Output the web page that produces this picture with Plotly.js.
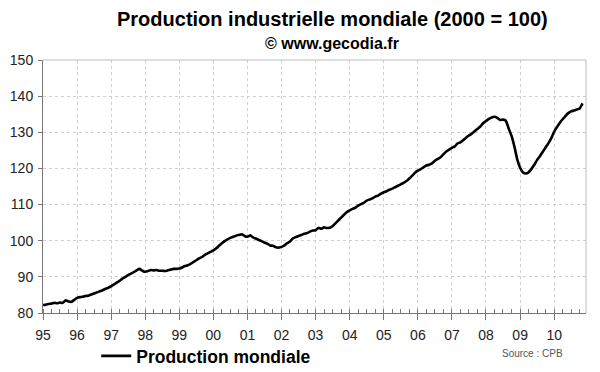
<!DOCTYPE html>
<html>
<head>
<meta charset="utf-8">
<script src="https://cdn.plot.ly/plotly-3.0.1.min.js"></script>
<style>html,body{margin:0;padding:0;background:#fff;}#chart{width:600px;height:372px;}</style>
</head>
<body>
<div id="chart"></div>
<script>
// Monthly values, January 1995 .. November 2010 (2000 = 100)
var startYear = 1995;
var v1995 = [82.2, 82.3, 82.5, 82.6, 82.8, 82.7, 82.9, 82.8, 83.5, 83.2, 83.1, 83.6];
var v1996 = [84.2, 84.4, 84.5, 84.7, 84.8, 85.1, 85.4, 85.7, 86.0, 86.3, 86.7, 87.0];
var v1997 = [87.4, 87.9, 88.4, 88.9, 89.5, 90.0, 90.5, 90.9, 91.3, 91.8, 92.2, 91.7];
var v1998 = [91.4, 91.6, 91.9, 91.8, 91.9, 91.7, 91.7, 91.6, 91.8, 92.0, 92.2, 92.2];
var v1999 = [92.3, 92.6, 93.0, 93.2, 93.6, 94.1, 94.6, 95.1, 95.5, 96.1, 96.5, 96.9];
var v2000 = [97.3, 97.9, 98.6, 99.3, 99.9, 100.4, 100.8, 101.1, 101.4, 101.6, 101.8, 101.3];
var v2001 = [101.1, 101.5, 100.9, 100.6, 100.2, 99.9, 99.5, 99.2, 98.7, 98.6, 98.2, 98.1];
var v2002 = [98.3, 98.7, 99.3, 99.8, 100.6, 101.0, 101.3, 101.6, 101.9, 102.1, 102.5, 102.8];
var v2003 = [102.9, 103.6, 103.3, 103.7, 103.5, 103.6, 104.0, 104.8, 105.6, 106.4, 107.2, 107.9];
var v2004 = [108.4, 108.8, 109.1, 109.7, 110.1, 110.5, 111.1, 111.4, 111.7, 112.2, 112.5, 113.0];
var v2005 = [113.4, 113.7, 114.1, 114.4, 114.8, 115.2, 115.6, 116.0, 116.5, 117.2, 118.0, 118.8];
var v2006 = [119.4, 119.8, 120.3, 120.8, 121.0, 121.4, 122.1, 122.6, 123.1, 123.9, 124.7, 125.2];
var v2007 = [125.7, 126.1, 126.9, 127.2, 127.8, 128.5, 129.1, 129.6, 130.3, 130.9, 131.6, 132.5];
var v2008 = [133.1, 133.7, 134.1, 134.3, 134.0, 133.4, 133.5, 133.2, 131.0, 129.0, 126.0, 122.5];
var v2009 = [120.2, 118.9, 118.6, 118.9, 119.8, 121.0, 122.3, 123.4, 124.6, 125.8, 127.0, 128.4];
var v2010 = [130.2, 131.5, 132.6, 133.6, 134.5, 135.3, 135.8, 136.0, 136.3, 136.6, 138.0];

var yTicks = [80, 90, 100, 110, 120, 130, 140, 150];
var seriesName = "Production mondiale";

var values = [].concat(v1995, v1996, v1997, v1998, v1999, v2000, v2001, v2002,
                       v2003, v2004, v2005, v2006, v2007, v2008, v2009, v2010);
var dates = [];
for (var i = 0; i < values.length; i++) {
  var y = startYear + Math.floor(i / 12);
  var m = (i % 12) + 1;
  dates.push(y + "-" + (m < 10 ? "0" + m : m) + "-01");
}

var FONT = "Liberation Sans, Arial, sans-serif";

var trace = {
  x: dates, y: values, type: "scatter", mode: "lines",
  name: seriesName,
  line: {color: "#000", width: 2.6, shape: "spline", smoothing: 0.4},
  showlegend: true
};

var layout = {
  width: 600, height: 372,
  paper_bgcolor: "#fff", plot_bgcolor: "#fff",
  margin: {l: 43, r: 14, t: 60, b: 59, autoexpand: false},
  showlegend: true,
  legend: {
    x: 0.098, y: -0.17, xanchor: "left", yanchor: "middle",
    orientation: "h", bgcolor: "rgba(0,0,0,0)",
    font: {family: FONT, size: 17.5, color: "#000", weight: "bold"},
    itemwidth: 30
  },
  xaxis: {
    type: "date",
    range: ["1995-01-01", "2010-12-08"],
    dtick: "M12", tick0: "1995-01-01", tickformat: "%y",
    ticks: "outside", ticklen: 6, tickcolor: "#777", tickwidth: 1,
    minor: {dtick: "M3", ticks: "inside", ticklen: 4, tickcolor: "#777", showgrid: false},
    showline: true, linecolor: "#777", linewidth: 1,
    showgrid: true, gridcolor: "#cfcfcf", griddash: "dot", gridwidth: 1,
    tickfont: {family: FONT, size: 14, color: "#222"},
    ticklabelstandoff: 3,
    automargin: false,
    zeroline: false, fixedrange: true
  },
  yaxis: {
    range: [80, 150], tickvals: yTicks,
    ticks: "outside", ticklen: 4, tickcolor: "#777",
    showline: true, linecolor: "#777", linewidth: 1,
    showgrid: true, gridcolor: "#cfcfcf", griddash: "dot", gridwidth: 1,
    tickfont: {family: FONT, size: 14, color: "#222"},
    ticklabelstandoff: 2,
    automargin: false,
    zeroline: false, fixedrange: true
  },
  shapes: [
    {type: "line", xref: "paper", yref: "paper", x0: 0, x1: 1, y0: 1, y1: 1,
     line: {color: "#bdbdbd", width: 1}},
    {type: "line", xref: "paper", yref: "paper", x0: 1, x1: 1, y0: 0, y1: 1,
     line: {color: "#bdbdbd", width: 1}}
  ],
  annotations: [
    {text: "Production industrielle mondiale (2000 = 100)", xref: "paper", yref: "paper",
     x: 0.533, y: 1, yshift: 41, xanchor: "center", yanchor: "middle", showarrow: false,
     font: {family: FONT, size: 20, color: "#000", weight: "bold"}},
    {text: "© www.gecodia.fr", xref: "paper", yref: "paper",
     x: 0.533, y: 1, yshift: 17, xanchor: "center", yanchor: "middle", showarrow: false,
     font: {family: FONT, size: 16, color: "#000", weight: "bold"}},
    {text: "Source : CPB", xref: "paper", yref: "paper",
     x: 0.962, y: 0, yshift: -40, xanchor: "right", yanchor: "middle", showarrow: false,
     font: {family: FONT, size: 10, color: "#555"}}
  ]
};

Plotly.newPlot("chart", [trace], layout, {displayModeBar: false, staticPlot: true});
</script>
</body>
</html>
